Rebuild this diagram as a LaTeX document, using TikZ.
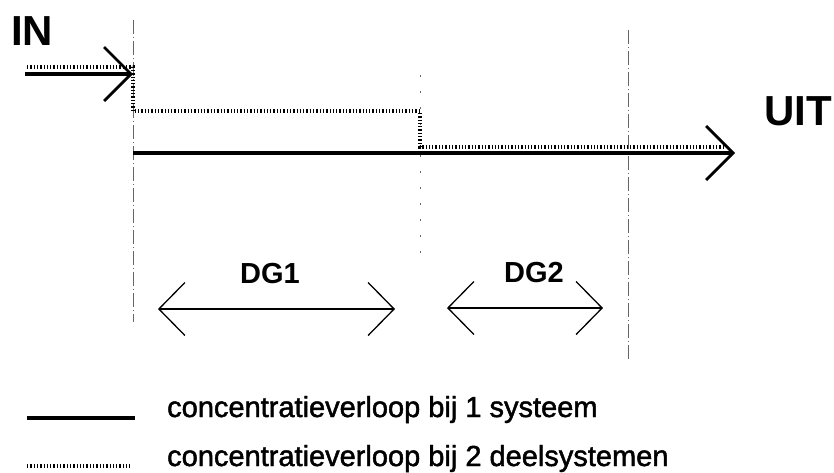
\documentclass[tikz,border=0pt]{standalone}
\usepackage{fontspec}
\setmainfont{Liberation Sans}
\newfontfamily\heavyfont{Liberation Sans}[FakeBold=1.6]
\usetikzlibrary{arrows.meta}
\begin{document}
\begin{tikzpicture}[x=1pt, y=-1pt,
  flow/.style={line width=4pt, -{Straight Barb[length=27pt, width=54pt, line width=2.8pt]}},
  dotline/.style={line width=3.5pt, dash pattern=on 1.3pt off 2pt},
  guide/.style={line width=0.8pt, black!60, dash pattern=on 14pt off 3pt on 1pt off 3pt},
  sparse/.style={line width=0.8pt, black!60, dash pattern=on 2pt off 14pt},
  span/.style={line width=1.3pt, {Straight Barb[length=26pt, width=53pt, line width=1.3pt]}-{Straight Barb[length=26pt, width=53pt, line width=1.3pt]}},
  big/.style={font=\fontsize{42}{48}\selectfont\bfseries},
  mid/.style={font=\fontsize{29}{34}\selectfont\bfseries},
  legend/.style={font=\fontsize{29}{34}\heavyfont, anchor=base west, inner sep=0pt}]
\useasboundingbox (0,0) rectangle (834,472);

% guide lines
\draw[guide] (133,20) -- (133,322);
\draw[sparse] (420,75) -- (420,260);
\draw[guide] (628,30) -- (628,362);

% labels
\node[big] (in) at (32,31) {IN};
\node[big] (uit) at (798,111) {UIT};

% concentration, one system
\coordinate (inA) at (25,74);
\coordinate (inB) at (133,74);
\coordinate (outA) at (133,153);
\coordinate (outB) at (735,153);
\draw[flow] (inA) -- (inB);
\draw[flow] (outA) -- (outB);

% concentration, two subsystems
\coordinate (d0) at (27,67);
\coordinate (d1) at (133,67);
\coordinate (d2) at (133,111);
\coordinate (d3) at (420,111);
\coordinate (d4) at (420,147);
\coordinate (d5) at (725,147);
\draw[dotline] (d0) -- (d1) -- (d2) -- (d3) -- (d4) -- (d5);

% residence times
\coordinate (dg1a) at (158,309);
\coordinate (dg1b) at (395,309);
\coordinate (dg2a) at (447,308);
\coordinate (dg2b) at (603,308);
\draw[span] (dg1a) -- (dg1b);
\draw[span] (dg2a) -- (dg2b);
\node[mid] (dg1) at (270,274) {DG1};
\node[mid] (dg2) at (534,273) {DG2};

% legend
\coordinate (l1a) at (27,418);
\coordinate (l1b) at (135,418);
\coordinate (l2a) at (27,466);
\coordinate (l2b) at (130,466);
\draw[line width=4pt] (l1a) -- (l1b);
\draw[dotline] (l2a) -- (l2b);
\node[legend] (one) at (167,417) {concentratieverloop bij 1 systeem};
\node[legend] (two) at (167,466) {concentratieverloop bij 2 deelsystemen};
\end{tikzpicture}
\end{document}
